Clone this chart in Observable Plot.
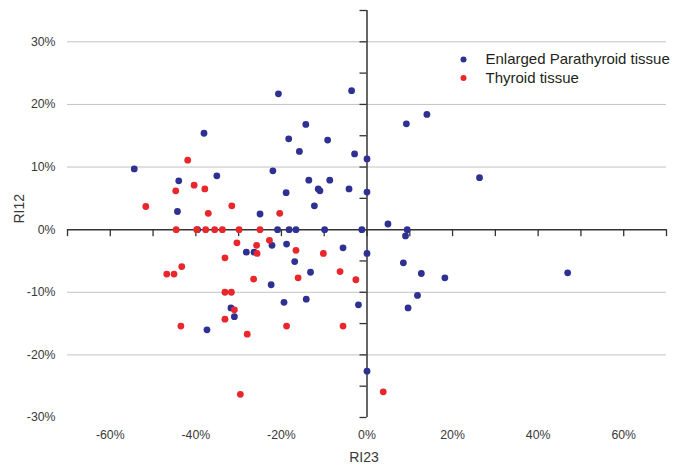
<!DOCTYPE html>
<html><head><meta charset="utf-8">
<script src="https://cdn.jsdelivr.net/npm/d3@7"></script>
<script src="https://cdn.jsdelivr.net/npm/@observablehq/plot@0.6"></script>
<style>body{margin:0;background:#fff}</style>
</head><body><div id="chart"></div>
<script>
const seriesNames = ["Enlarged Parathyroid tissue", "Thyroid tissue"];
const seriesColors = ["#2e3192", "#e8262b"];
const xTitle = "RI23";
const yTitle = "RI12";

// values in percent
const parathyroidRI23 = [-54.4,-44.0,-44.3,-38.1,-35.1,-39.6,-37.4,-31.8,-31.0,-28.2,-26.4,-25.0,-22.0,-22.2,-22.4,-20.7,-20.9,-19.4,-18.9,-18.8,-18.3,-18.2,-16.6,-16.9,-15.8,-14.3,-14.2,-13.6,-13.2,-12.3,-11.4,-11.0,-9.9,-9.2,-8.7,-5.6,-4.2,-3.6,-2.9,-2.0,-1.2,0,0,0,0,4.9,8.5,9.0,9.4,9.2,9.6,11.8,12.7,14.0,18.2,26.3,46.9];
const parathyroidRI12 = [9.7,7.8,2.9,15.4,8.6,0,-16.0,-12.5,-13.9,-3.6,-3.6,2.5,9.4,-2.5,-8.8,21.7,0,-11.6,5.9,-2.3,14.5,0,0,-5.1,12.5,16.8,-11.1,7.9,-6.8,3.8,6.5,6.2,0,14.3,7.9,-2.9,6.5,22.2,12.1,-12.0,0,11.3,6.0,-3.8,-22.6,0.9,-5.3,-1.0,0,16.9,-12.5,-10.5,-7.0,18.4,-7.7,8.3,-6.9];
const thyroidRI23 = [-51.7,-46.8,-45.1,-44.7,-44.6,-43.5,-43.3,-41.9,-40.4,-39.8,-37.9,-37.7,-37.1,-35.6,-33.8,-33.2,-33.2,-33.2,-31.7,-31.6,-31.0,-30.4,-29.9,-29.6,-28.0,-26.5,-25.8,-25.7,-25.0,-22.8,-20.4,-18.8,-16.6,-16.1,-10.2,-6.3,-5.6,-2.6,3.8];
const thyroidRI12 = [3.7,-7.1,-7.1,6.2,0,-15.4,-5.9,11.1,7.1,0,6.5,0,2.6,0,0,-4.5,-10.0,-14.3,-10.0,3.8,-12.8,-2.1,0,-26.3,-16.7,-7.9,-2.5,-3.8,0,-1.7,2.6,-15.4,-3.3,-7.7,-3.8,-6.7,-15.4,-8.0,-25.9];

const xDomain = [-70, 70];
const yDomain = [-30, 35];
const xLabelValues = [-60, -40, -20, 0, 20, 40, 60];
const xTickValues = [-70, -60, -50, -40, -30, -20, -10, 0, 10, 20, 30, 40, 50, 60, 70];
const yLabelValues = [-30, -20, -10, 0, 10, 20, 30];
const yTickValues = [-30, -25, -20, -15, -10, -5, 0, 5, 10, 15, 20, 25, 30, 35];
const gridValues = [-20, -10, 10, 20, 30];

const parathyroid = parathyroidRI23.map((x, i) => ({x, y: parathyroidRI12[i]}));
const thyroid = thyroidRI23.map((x, i) => ({x, y: thyroidRI12[i]}));
const pct = d => d + "%";
const axisColor = "#333333";
const textColor = "#383838";

const chart = Plot.plot({
  width: 673, height: 469,
  marginLeft: 67, marginRight: 7, marginTop: 10, marginBottom: 52,
  x: {domain: xDomain},
  y: {domain: yDomain},
  style: {fontFamily: "'Liberation Sans', Arial, sans-serif", fontSize: "12.3px", color: textColor, background: "#fff"},
  marks: [
    Plot.ruleY(gridValues, {stroke: "#c2c2c2", strokeWidth: 1}),
    Plot.axisX(xLabelValues, {anchor: "bottom", tickSize: 0, tickPadding: 13, tickFormat: pct, label: null, fill: textColor}),
    Plot.axisY(yLabelValues, {anchor: "left", tickSize: 0, tickPadding: 12, tickFormat: pct, label: null, fill: textColor}),
    Plot.ruleY([0], {stroke: axisColor, strokeWidth: 1.5}),
    Plot.ruleX([0], {stroke: axisColor, strokeWidth: 1.5}),
    Plot.ruleX(xTickValues, {y1: 0, y2: 0, insetBottom: -7, stroke: axisColor, strokeWidth: 1.3}),
    Plot.ruleY(yTickValues, {x1: 0, x2: 0, insetLeft: -7, stroke: axisColor, strokeWidth: 1.3}),
    Plot.dot(parathyroid, {x: "x", y: "y", r: 3.4, fill: seriesColors[0]}),
    Plot.dot(thyroid, {x: "x", y: "y", r: 3.4, fill: seriesColors[1]}),
    Plot.text([xTitle], {frameAnchor: "bottom", dx: -3, dy: 40, lineAnchor: "middle", fontSize: 14, fill: textColor}),
    Plot.text([yTitle], {frameAnchor: "left", dx: -48, dy: 9.5, rotate: -90, lineAnchor: "middle", fontSize: 14, fill: textColor}),
    Plot.dot([seriesNames[0]], {frameAnchor: "top-left", dx: 396, dy: 49, r: 3, fill: seriesColors[0]}),
    Plot.dot([seriesNames[1]], {frameAnchor: "top-left", dx: 396, dy: 67.5, r: 3, fill: seriesColors[1]}),
    Plot.text([seriesNames[0]], {frameAnchor: "top-left", dx: 418, dy: 49, textAnchor: "start", lineAnchor: "middle", fontSize: 15, fill: "#231f20"}),
    Plot.text([seriesNames[1]], {frameAnchor: "top-left", dx: 418, dy: 67.5, textAnchor: "start", lineAnchor: "middle", fontSize: 15, fill: "#231f20"})
  ]
});
document.getElementById("chart").appendChild(chart);
</script>
</body></html>
